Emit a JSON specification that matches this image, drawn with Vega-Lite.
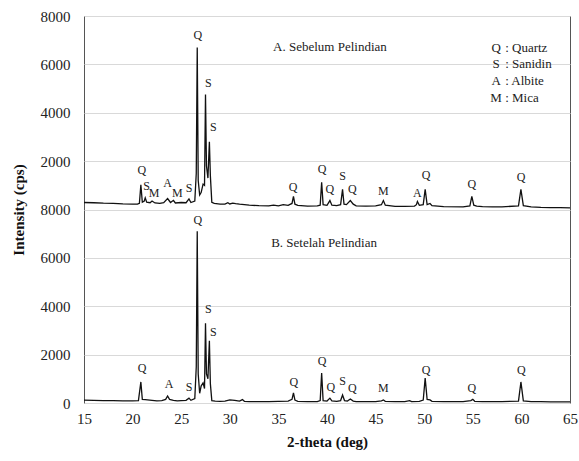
{
  "$schema": "https://vega.github.io/schema/vega-lite/v6.json",
  "width": 486,
  "height": 387,
  "autosize": {"type": "none"},
  "padding": {"left": 84, "top": 16, "right": 9, "bottom": 58},
  "background": "white",
  "config": {
    "view": {"stroke": "#555555", "strokeWidth": 1},
    "font": "Liberation Serif",
    "text": {"font": "Liberation Serif"},
    "axis": {"labelFont": "Liberation Serif", "titleFont": "Liberation Serif", "labelColor": "#222", "titleColor": "#111"}
  },
  "datasets": {
    "top": [
      {"x":15,"y":8290},{"x":16,"y":8280},{"x":17,"y":8260},{"x":18,"y":8250},{"x":19,"y":8230},{"x":20,"y":8220},{"x":20.5,"y":8220},{"x":20.7,"y":8260},{"x":20.85,"y":9020},{"x":21.0,"y":8300},{"x":21.2,"y":8350},{"x":21.3,"y":8480},{"x":21.45,"y":8300},{"x":21.8,"y":8280},{"x":22.0,"y":8350},{"x":22.3,"y":8270},{"x":22.8,"y":8250},{"x":23.2,"y":8280},{"x":23.6,"y":8450},{"x":23.9,"y":8290},{"x":24.2,"y":8380},{"x":24.4,"y":8270},{"x":25.0,"y":8290},{"x":25.5,"y":8280},{"x":25.8,"y":8440},{"x":26.0,"y":8290},{"x":26.4,"y":8350},{"x":26.55,"y":9500},{"x":26.65,"y":14700},{"x":26.75,"y":9200},{"x":26.9,"y":8600},{"x":27.05,"y":8700},{"x":27.25,"y":9050},{"x":27.4,"y":9000},{"x":27.5,"y":12750},{"x":27.6,"y":9800},{"x":27.75,"y":9300},{"x":27.9,"y":10800},{"x":28.0,"y":9400},{"x":28.15,"y":8300},{"x":28.4,"y":8250},{"x":29,"y":8220},{"x":29.5,"y":8220},{"x":29.8,"y":8280},{"x":30,"y":8230},{"x":30.3,"y":8260},{"x":30.6,"y":8240},{"x":31,"y":8220},{"x":32,"y":8180},{"x":33,"y":8160},{"x":34,"y":8150},{"x":34.5,"y":8180},{"x":35,"y":8150},{"x":35.5,"y":8200},{"x":36,"y":8170},{"x":36.4,"y":8250},{"x":36.55,"y":8540},{"x":36.7,"y":8220},{"x":37,"y":8170},{"x":38,"y":8140},{"x":39,"y":8150},{"x":39.3,"y":8180},{"x":39.45,"y":9120},{"x":39.6,"y":8200},{"x":40.0,"y":8170},{"x":40.3,"y":8370},{"x":40.5,"y":8180},{"x":41,"y":8160},{"x":41.4,"y":8200},{"x":41.6,"y":8830},{"x":41.75,"y":8220},{"x":42.0,"y":8200},{"x":42.4,"y":8370},{"x":42.7,"y":8220},{"x":43,"y":8150},{"x":44,"y":8140},{"x":45,"y":8150},{"x":45.6,"y":8200},{"x":45.8,"y":8370},{"x":46.0,"y":8180},{"x":47,"y":8130},{"x":48,"y":8130},{"x":49,"y":8140},{"x":49.2,"y":8200},{"x":49.3,"y":8330},{"x":49.5,"y":8170},{"x":49.9,"y":8200},{"x":50.1,"y":8830},{"x":50.3,"y":8200},{"x":50.6,"y":8250},{"x":50.8,"y":8160},{"x":52,"y":8120},{"x":54,"y":8110},{"x":54.7,"y":8150},{"x":54.9,"y":8540},{"x":55.1,"y":8180},{"x":55.4,"y":8140},{"x":56,"y":8120},{"x":57,"y":8110},{"x":58,"y":8110},{"x":59.7,"y":8150},{"x":59.95,"y":8830},{"x":60.2,"y":8160},{"x":61,"y":8110},{"x":62,"y":8090},{"x":63,"y":8080},{"x":64,"y":8080},{"x":65,"y":8070}
    ],
    "bottom": [
      {"x":15,"y":120},{"x":16,"y":110},{"x":17,"y":100},{"x":18,"y":100},{"x":19,"y":90},{"x":20,"y":90},{"x":20.6,"y":100},{"x":20.85,"y":870},{"x":21.0,"y":150},{"x":21.3,"y":140},{"x":22,"y":110},{"x":22.5,"y":90},{"x":23,"y":100},{"x":23.4,"y":150},{"x":23.6,"y":290},{"x":23.8,"y":150},{"x":24.2,"y":110},{"x":24.6,"y":90},{"x":25,"y":100},{"x":25.5,"y":110},{"x":25.8,"y":200},{"x":26.0,"y":110},{"x":26.4,"y":180},{"x":26.55,"y":1500},{"x":26.65,"y":7100},{"x":26.75,"y":1200},{"x":26.9,"y":400},{"x":27.05,"y":700},{"x":27.25,"y":830},{"x":27.4,"y":600},{"x":27.5,"y":3300},{"x":27.6,"y":1200},{"x":27.75,"y":1000},{"x":27.9,"y":2570},{"x":28.0,"y":800},{"x":28.15,"y":100},{"x":28.5,"y":80},{"x":29,"y":70},{"x":29.5,"y":80},{"x":30,"y":130},{"x":30.5,"y":110},{"x":31,"y":80},{"x":31.3,"y":140},{"x":31.5,"y":70},{"x":32,"y":60},{"x":33,"y":60},{"x":34,"y":60},{"x":35,"y":70},{"x":36,"y":80},{"x":36.4,"y":150},{"x":36.55,"y":415},{"x":36.7,"y":120},{"x":37,"y":70},{"x":38,"y":60},{"x":39,"y":60},{"x":39.3,"y":100},{"x":39.45,"y":1240},{"x":39.6,"y":100},{"x":40,"y":80},{"x":40.3,"y":200},{"x":40.5,"y":90},{"x":41,"y":70},{"x":41.4,"y":100},{"x":41.6,"y":330},{"x":41.8,"y":100},{"x":42.1,"y":80},{"x":42.4,"y":165},{"x":42.7,"y":80},{"x":43,"y":60},{"x":44,"y":60},{"x":45,"y":60},{"x":45.6,"y":90},{"x":45.8,"y":125},{"x":46,"y":70},{"x":47,"y":60},{"x":48,"y":60},{"x":48.5,"y":100},{"x":48.7,"y":60},{"x":49.5,"y":70},{"x":49.9,"y":120},{"x":50.1,"y":1030},{"x":50.3,"y":150},{"x":50.6,"y":130},{"x":50.8,"y":70},{"x":52,"y":60},{"x":54,"y":60},{"x":54.8,"y":100},{"x":55,"y":150},{"x":55.2,"y":70},{"x":56,"y":60},{"x":58,"y":60},{"x":59.7,"y":80},{"x":59.95,"y":870},{"x":60.2,"y":90},{"x":61,"y":60},{"x":62,"y":60},{"x":63,"y":50},{"x":64,"y":50},{"x":65,"y":50}
    ],
    "labels": [
      {"x":20.95,"y":9650,"t":"Q"},{"x":21.45,"y":8980,"t":"S"},{"x":22.2,"y":8700,"t":"M"},{"x":23.6,"y":9080,"t":"A"},{"x":24.6,"y":8700,"t":"M"},{"x":25.8,"y":8870,"t":"S"},{"x":26.7,"y":15210,"t":"Q"},{"x":27.8,"y":13220,"t":"S"},{"x":28.3,"y":11400,"t":"S"},{"x":36.5,"y":8910,"t":"Q"},{"x":39.5,"y":9660,"t":"Q"},{"x":40.3,"y":8830,"t":"Q"},{"x":41.6,"y":9370,"t":"S"},{"x":42.6,"y":8830,"t":"Q"},{"x":45.8,"y":8750,"t":"M"},{"x":49.3,"y":8700,"t":"A"},{"x":50.2,"y":9410,"t":"Q"},{"x":54.9,"y":9040,"t":"Q"},{"x":59.96,"y":9330,"t":"Q"},
      {"x":20.97,"y":1450,"t":"Q"},{"x":23.75,"y":790,"t":"A"},{"x":25.8,"y":660,"t":"S"},{"x":26.7,"y":7550,"t":"Q"},{"x":27.8,"y":3900,"t":"S"},{"x":28.3,"y":2940,"t":"S"},{"x":36.6,"y":870,"t":"Q"},{"x":39.5,"y":1740,"t":"Q"},{"x":40.4,"y":660,"t":"Q"},{"x":41.6,"y":910,"t":"S"},{"x":42.6,"y":620,"t":"Q"},{"x":45.8,"y":620,"t":"M"},{"x":50.2,"y":1370,"t":"Q"},{"x":54.9,"y":620,"t":"Q"},{"x":60.0,"y":1370,"t":"Q"}
    ],
    "notes": [
      {"x":40.3,"y":14700,"t":"A. Sebelum Pelindian"},
      {"x":39.7,"y":6630,"t":"B. Setelah Pelindian"}
    ],
    "legend": [
      {"x":57.4,"y":14670,"k":"Q","t":": Quartz"},
      {"x":57.4,"y":14010,"k":"S","t":": Sanidin"},
      {"x":57.4,"y":13300,"k":"A","t":": Albite"},
      {"x":57.4,"y":12600,"k":"M","t":": Mica"}
    ]
  },
  "encoding": {
    "x": {"field":"x","type":"quantitative","scale":{"domain":[15,65],"nice":false,"zero":false},
      "axis":{"title":"2-theta (deg)","values":[15,20,25,30,35,40,45,50,55,60,65],"grid":false,"ticks":false,"domain":false,"labelFontSize":15,"labelPadding":8,"titleFontSize":15,"titleFontWeight":"bold","titlePadding":8,"labelFlush":false}},
    "y": {"field":"y","type":"quantitative","scale":{"domain":[0,16000],"nice":false},
      "axis":{"title":"Intensity (cps)","values":[0,2000,4000,6000,8000,10000,12000,14000,16000],"labelExpr":"datum.value == 0 ? '0' : (datum.value % 8000 == 0 ? '8000' : format(datum.value % 8000, 'd'))","grid":true,"gridColor":"#d9d9d9","gridWidth":1,"ticks":false,"domain":false,"labelFontSize":15,"labelPadding":14,"titleFontSize":15,"titleFontWeight":"bold","titlePadding":14}}
  },
  "layer": [
    {"data":{"name":"top"},"mark":{"type":"line","color":"#111","strokeWidth":1.3,"interpolate":"linear"}},
    {"data":{"name":"bottom"},"mark":{"type":"line","color":"#111","strokeWidth":1.3,"interpolate":"linear"}},
    {"data":{"name":"labels"},"mark":{"type":"text","fontSize":12,"color":"#222","baseline":"middle","align":"center"},"encoding":{"text":{"field":"t"}}},
    {"data":{"name":"notes"},"mark":{"type":"text","fontSize":13,"color":"#222","baseline":"middle","align":"center"},"encoding":{"text":{"field":"t"}}},
    {"data":{"name":"legend"},"mark":{"type":"text","fontSize":13,"color":"#222","baseline":"middle","align":"center"},"encoding":{"text":{"field":"k"}}},
    {"data":{"name":"legend"},"mark":{"type":"text","fontSize":13,"color":"#222","baseline":"middle","align":"left","dx":9},"encoding":{"text":{"field":"t"}}}
  ]
}
